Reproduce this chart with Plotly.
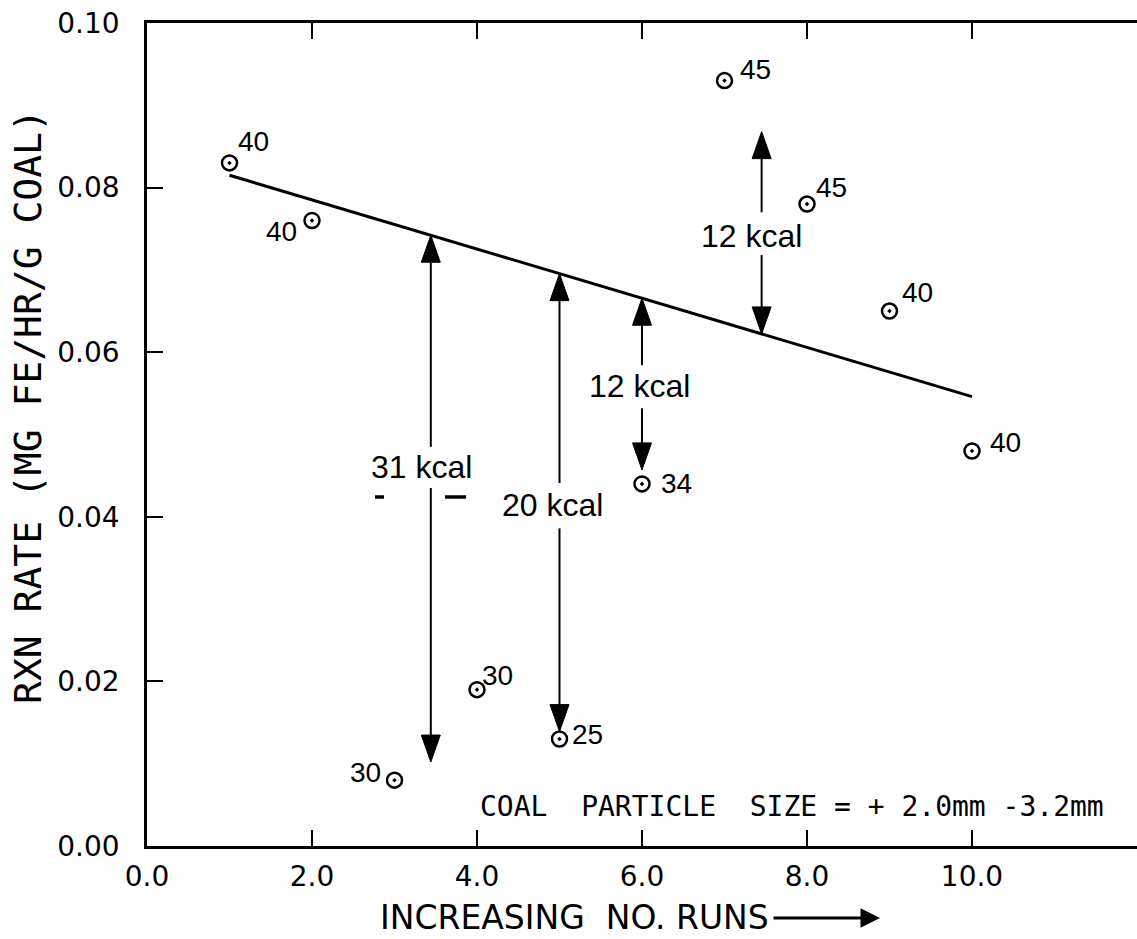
import plotly.graph_objects as go

# Reaction rate per run, with the temperature tag written next to each point
runs = [1, 2, 3, 4, 5, 6, 7, 8, 9, 10]
rxn_rate = [0.083, 0.076, 0.008, 0.019, 0.013, 0.044, 0.093, 0.078, 0.065, 0.048]
point_tags = ["40", "40", "30", "30", "25", "34", "45", "45", "40", "40"]
# pixel offsets of each tag from its point (dx right, dy up)
tag_dx = [24, -31, -29, 20, 28, 34, 31, 24, 28, 33]
tag_dy = [21, -11, 8, 14, 5, 0, 11, 17, 19, 8]

# Trend line end points
trend_x = [1, 10]
trend_y = [0.0815, 0.0546]

# Activation-energy arrows: x position, lower tip, label, label centre, gap in shaft
arrow_x = [3.44, 5.0, 6.0, 7.45]
arrow_low = [0.0102, 0.0139, 0.0457, None]
arrow_high = [None, None, None, 0.0868]
arrow_label = ["31 kcal", "20 kcal", "12 kcal", "12 kcal"]
label_x = [3.33, 4.92, 5.97, 7.33]
label_y = [0.0461, 0.0414, 0.0559, 0.0741]
gap_low = [0.0435, 0.0386, 0.0532, 0.0718]
gap_high = [0.0485, 0.0441, 0.0584, 0.0770]

x_ticks = [0, 2, 4, 6, 8, 10]
y_ticks = [0.00, 0.02, 0.04, 0.06, 0.08, 0.10]

W, H = 1137, 939
L, R, T, B = 147, 0, 23, 93
XR = [0, 12.0]
YR = [0, 0.10]
PW, PH = W - L - R, H - T - B
px_x = PW / (XR[1] - XR[0])
px_y = PH / (YR[1] - YR[0])


def trend_at(x):
    s = (trend_y[1] - trend_y[0]) / (trend_x[1] - trend_x[0])
    return trend_y[0] + s * (x - trend_x[0])


fig = go.Figure()

# Trend line
fig.add_trace(go.Scatter(x=trend_x, y=trend_y, mode="lines",
                         line=dict(color="black", width=3), hoverinfo="skip"))

# Data points
fig.add_trace(go.Scatter(x=runs, y=rxn_rate, mode="markers",
                         marker=dict(symbol="circle-open-dot", size=15, color="black",
                                     line=dict(color="black", width=2.5)),
                         hoverinfo="skip"))

shapes = []
annotations = []

head_len = 27 / px_y
head_half = 9.5 / px_x


def head(x, tip, direction):
    # filled triangular arrow head; direction +1 points up, -1 points down
    base = tip - direction * head_len
    return dict(type="path", xref="x", yref="y",
                path=f"M{x - head_half},{base} L{x},{tip} L{x + head_half},{base} Z",
                fillcolor="black", line=dict(color="black", width=1))


for i, x in enumerate(arrow_x):
    top = arrow_high[i] if arrow_high[i] is not None else trend_at(x)
    bot = arrow_low[i] if arrow_low[i] is not None else trend_at(x)
    # shaft, broken where the label sits
    fig.add_trace(go.Scatter(x=[x, x, None, x, x],
                             y=[top - head_len * 0.5, gap_high[i], None, gap_low[i], bot + head_len * 0.5],
                             mode="lines", line=dict(color="black", width=2), hoverinfo="skip"))
    shapes.append(head(x, top, 1))
    shapes.append(head(x, bot, -1))
    annotations.append(dict(x=label_x[i], y=label_y[i], xref="x", yref="y", text=arrow_label[i],
                            showarrow=False, font=dict(family="Liberation Sans", size=32, color="black")))

# small stray dashes beside the 31 kcal label
stray_y = (846 - 497) / px_y
fig.add_trace(go.Scatter(x=[(375 - L) / px_x, (384 - L) / px_x, None, (445 - L) / px_x, (466 - L) / px_x],
                         y=[stray_y, stray_y, None, stray_y, stray_y], mode="lines",
                         line=dict(color="black", width=3.5), hoverinfo="skip"))

# Point tags
for x, y, t, dx, dy in zip(runs, rxn_rate, point_tags, tag_dx, tag_dy):
    annotations.append(dict(x=x, y=y, xref="x", yref="y", text=t, showarrow=False,
                            xshift=dx, yshift=dy,
                            font=dict(family="Liberation Sans", size=28, color="black")))

# Particle size note
annotations.append(dict(x=(478 - L) / px_x, y=(846 - 806) / px_y, xref="x", yref="y",
                        xanchor="left", yanchor="middle", showarrow=False,
                        text="COAL  PARTICLE  SIZE = + 2.0mm -3.2mm",
                        font=dict(family="DejaVu Sans Mono", size=28, color="black")))

# Axis titles
annotations.append(dict(x=(378 - L) / PW, y=-(917 - (H - B)) / PH,
                        xref="paper", yref="paper", xanchor="left", yanchor="middle",
                        showarrow=False, text="INCREASING  NO. RUNS",
                        font=dict(family="DejaVu Sans", size=33, color="black")))
annotations.append(dict(x=(880 - L) / PW, y=-(918 - (H - B)) / PH,
                        ax=-108, ay=0, xref="paper", yref="paper",
                        showarrow=True, arrowhead=2, arrowsize=1.3, arrowwidth=3,
                        arrowcolor="black", text=""))
annotations.append(dict(x=-(L - 28) / PW, y=(H - B - 407) / PH,
                        xref="paper", yref="paper", xanchor="center", yanchor="middle",
                        textangle=-90, showarrow=False,
                        text="RXN RATE (MG FE/HR/G COAL)",
                        font=dict(family="DejaVu Sans Mono", size=38, color="black")))

tick_style = dict(ticks="inside", ticklen=16, tickwidth=2, tickcolor="black",
                  showgrid=False, zeroline=False,
                  tickfont=dict(family="DejaVu Sans", size=28, color="black"))

fig.update_layout(
    width=W, height=H,
    margin=dict(l=L, r=R, t=T, b=B),
    paper_bgcolor="white", plot_bgcolor="white",
    showlegend=False,
    xaxis=dict(range=XR, tickvals=x_ticks, tickformat=".1f", showline=True,
               linecolor="black", linewidth=2.5, mirror="ticks", ticklabelstandoff=4,
               **tick_style),
    yaxis=dict(range=YR, tickvals=y_ticks, tickformat=".2f", showline=True,
               linecolor="black", linewidth=2.5, mirror=False, ticklabelstandoff=19,
               **tick_style),
    # right-hand ticks only; the frame edge itself lies outside the page
    yaxis2=dict(range=YR, tickvals=y_ticks, overlaying="y", side="right",
                showline=False, showticklabels=False, **tick_style),
    shapes=shapes,
    annotations=annotations,
)

fig.write_html("out.html")
